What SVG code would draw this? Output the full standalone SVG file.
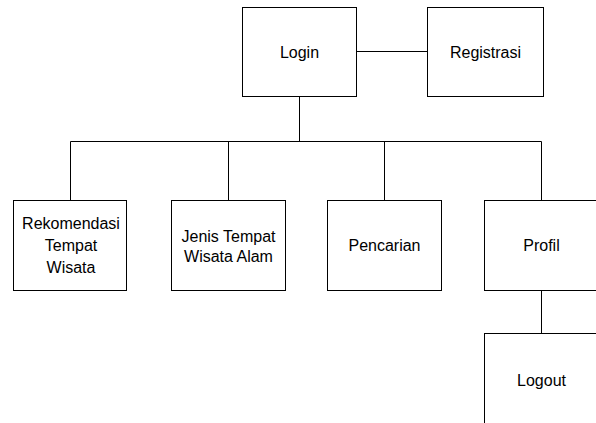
<svg xmlns="http://www.w3.org/2000/svg" width="596" height="423" viewBox="0 0 596 423">
<style>
.box{fill:#fff;stroke:#000;stroke-width:1}
.ln{fill:none;stroke:#000;stroke-width:1}
text{font-family:"Liberation Sans",Arial,sans-serif;font-size:16px;fill:#000;text-anchor:middle}
</style>
<rect width="596" height="423" fill="#fff"/>
<g id="connectors">
<line class="ln" x1="356.5" y1="51.5" x2="427.5" y2="51.5"/>
<line class="ln" x1="299.5" y1="96.5" x2="299.5" y2="141.5"/>
<line class="ln" x1="70.5" y1="141.5" x2="541.5" y2="141.5"/>
<line class="ln" x1="70.5" y1="141.5" x2="70.5" y2="200.5"/>
<line class="ln" x1="228.5" y1="141.5" x2="228.5" y2="200.5"/>
<line class="ln" x1="384.5" y1="141.5" x2="384.5" y2="200.5"/>
<line class="ln" x1="541.5" y1="141.5" x2="541.5" y2="200.5"/>
<line class="ln" x1="541.5" y1="290.5" x2="541.5" y2="333.5"/>
</g>
<g id="login">
<rect class="box" x="242.5" y="7.5" width="114" height="89"/>
<text x="299.5" y="57.5">Login</text>
</g>
<g id="registrasi">
<rect class="box" x="427.5" y="7.5" width="116" height="89"/>
<text x="485.5" y="57.5">Registrasi</text>
</g>
<g id="rekomendasi">
<rect class="box" x="13.5" y="200.5" width="113" height="90"/>
<text x="71" y="228.5">Rekomendasi</text>
<text x="71" y="250.5">Tempat</text>
<text x="71" y="272.5">Wisata</text>
</g>
<g id="jenis">
<rect class="box" x="171.5" y="200.5" width="114" height="90"/>
<text x="228.5" y="242">Jenis Tempat</text>
<text x="228.5" y="262">Wisata Alam</text>
</g>
<g id="pencarian">
<rect class="box" x="327.5" y="200.5" width="114" height="90"/>
<text x="384.5" y="251">Pencarian</text>
</g>
<g id="profil">
<rect class="box" x="484.5" y="200.5" width="114" height="90"/>
<text x="541.5" y="251">Profil</text>
</g>
<g id="logout">
<rect class="box" x="484.5" y="333.5" width="114" height="95"/>
<text x="541.5" y="386">Logout</text>
</g>
</svg>
